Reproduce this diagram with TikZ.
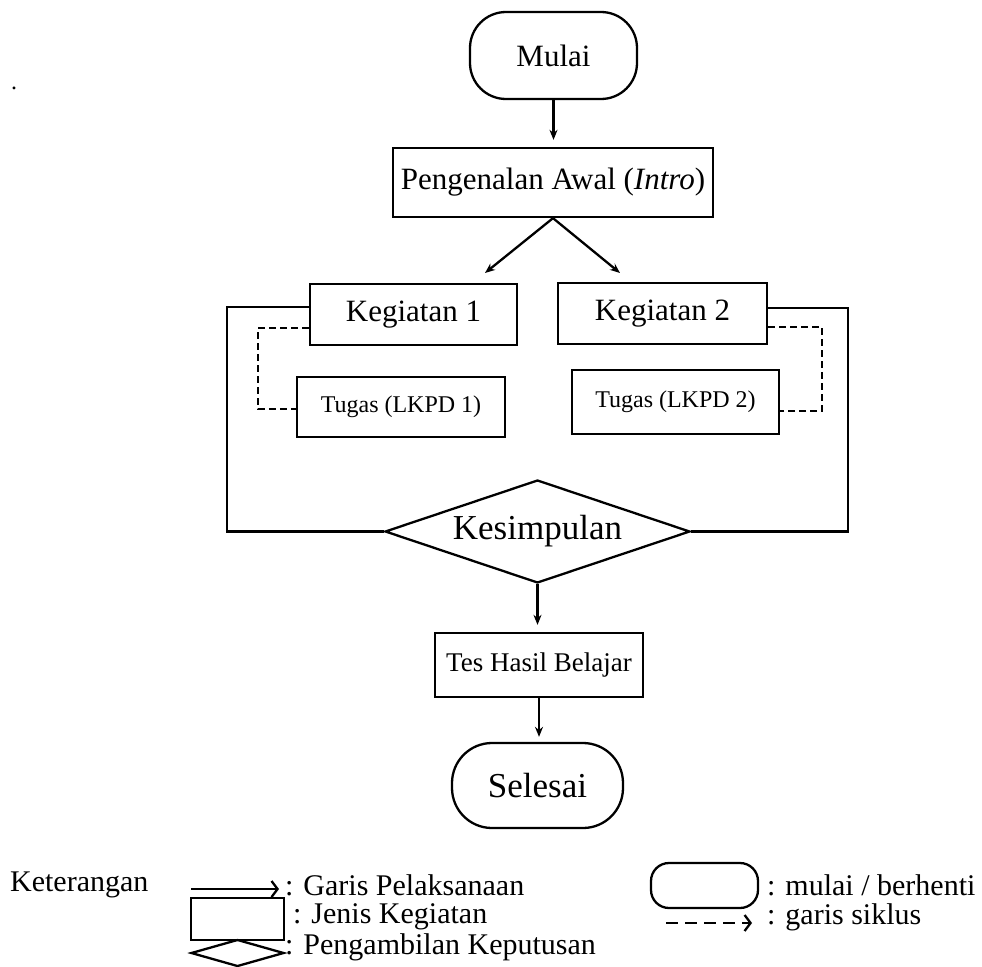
\documentclass[tikz,border=0pt]{standalone}
\usepackage{fontspec}
\setmainfont{Liberation Serif}
\usetikzlibrary{shapes, arrows.meta, positioning}
\newcommand{\fsz}[1]{\fontsize{#1}{#1}\selectfont}

\begin{document}
\begin{tikzpicture}[> = {Stealth[length=10pt, width=8pt]}, x=1pt, y=-1pt, line width=2.3pt,
		kotak/.style={draw, rectangle, inner sep=0pt},
		terminal/.style={draw, rectangle, rounded corners=36pt, inner sep=0pt},
		keputusan/.style={draw, diamond, aspect=3, inner sep=0pt},
		siklus/.style={dash pattern=on 7pt off 4pt},
		teks/.style={anchor=west, inner sep=0pt, font=\fsz{30}}]
				\useasboundingbox (0,0) rectangle (982,966);
				
				% titik
				\node [font=\fsz{24}] (titik) at (14,88) {.};
				
				% alur utama
				\node [terminal, minimum width=167pt, minimum height=87pt, font=\fsz{31}] (mulai) at (553.5,55.5) {Mulai};
				\node [kotak, minimum width=320pt, minimum height=69pt, font=\fsz{31}] (intro) at (553,182.5) {Pengenalan Awal (\textit{Intro})};
				\node [kotak, minimum width=207pt, minimum height=61pt, font=\fsz{31}] (keg1) at (413.5,314.5) {Kegiatan 1};
				\node [kotak, minimum width=209pt, minimum height=61pt, font=\fsz{31}] (keg2) at (662.5,313.5) {Kegiatan 2};
				\node [kotak, minimum width=208pt, minimum height=60pt, font=\fsz{24}] (tugas1) at (401,407) {Tugas (LKPD 1)};
				\node [kotak, minimum width=207pt, minimum height=64pt, font=\fsz{24}] (tugas2) at (675.5,402) {Tugas (LKPD 2)};
				\node [keputusan, minimum width=305pt, minimum height=103pt, font=\fsz{35}] (simpul) at (537.5,531.5) {Kesimpulan};
				\node [kotak, minimum width=208pt, minimum height=64pt, font=\fsz{27}] (tes) at (539,665) {Tes Hasil Belajar};
				\node [terminal, rounded corners=40pt, minimum width=171pt, minimum height=85pt, font=\fsz{35}] (selesai) at (537.5,785.5) {Selesai};
				
				% panah
				\coordinate (ujung1) at (485,273);
				\coordinate (ujung2) at (620,273);
				\draw [->, shorten >=7pt] (mulai.south) -- (mulai.south |- intro.north);
				\draw [->] (intro.south) -- (ujung1);
				\draw [->] (intro.south) -- (ujung2);
				\draw [->, shorten >=7pt] (simpul.south) -- (simpul.south |- tes.north);
				\draw [->, shorten >=5pt] (tes.south) -- (tes.south |- selesai.north);
				
				% garis kembali
				\draw ([yshift=7.5pt]keg1.west) -- ++(-82,0) |- (simpul.west);
				\draw ([yshift=5.5pt]keg2.east) -- ++(80,0) |- (simpul.east);
				
				% garis siklus
				\draw [siklus] ([yshift=-13.5pt]keg1.west) -- ++(-51,0) |- ([yshift=-2pt]tugas1.west);
				\draw [siklus] ([yshift=-13.5pt]keg2.east) -- ++(54,0) |- ([yshift=-9pt]tugas2.east);
				
				% keterangan
				\node [teks] (ket) at (9,885) {Keterangan};
				\draw [-{Straight Barb[length=6pt, width=16pt]}] (191,889) -- (279,889);
				\node [kotak, minimum width=93pt, minimum height=42pt] (lkotak) at (237.5,919) {};
				\node [keputusan, minimum width=93pt, minimum height=27pt] (lputus) at (237.5,953) {};
				\node [teks] (kgaris) at (284,885) {: Garis Pelaksanaan};
				\node [teks] (kjenis) at (292,917) {: Jenis Kegiatan};
				\node [teks] (kambil) at (284,947) {: Pengambilan Keputusan};
				\node [terminal, rounded corners=18pt, minimum width=107pt, minimum height=45pt] (lmulai) at (704.5,885.5) {};
				\node [teks] (kmulai) at (766,885) {: mulai / berhenti};
				\draw [dash pattern=on 12pt off 7pt, -{Straight Barb[length=6pt, width=16pt]}] (666,923) -- (752,923);
				\node [teks] (ksiklus) at (766,917) {: garis siklus};
				
			\end{tikzpicture}
\end{document}
